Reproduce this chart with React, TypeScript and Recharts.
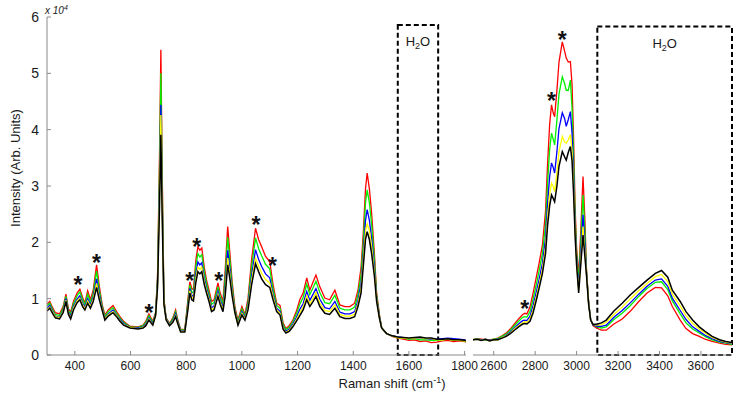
import React from "react";
import { Line, LineChart, ReferenceArea, ReferenceDot, XAxis, YAxis } from "recharts";

const FONT = "'Liberation Sans', Arial, sans-serif";
const AXIS_GREY = "#8a8a8a";

// fingerprint region (cm-1), intensities in units of 1e4
const shiftLow = [
  300, 310, 320, 330, 345, 358, 368, 377, 385, 395, 408, 418, 428, 436, 446, 456, 466, 478, 488, 498,
  508, 520, 537, 550, 562, 575, 598, 627, 645, 655, 666, 680, 690, 697, 704, 709, 714, 720, 728, 740,
  752, 762, 770, 780, 795, 806, 813, 820, 826, 835, 842, 849, 856, 865, 873, 882, 891, 900, 914, 922,
  932, 940, 949, 957, 965, 975, 986, 1000, 1011, 1022, 1035, 1049, 1060, 1071, 1085, 1100, 1112, 1125, 1137, 1148,
  1158, 1170, 1183, 1196, 1208, 1220, 1233, 1244, 1256, 1266, 1280, 1298, 1315, 1334, 1352, 1370, 1388, 1405, 1417, 1428,
  1436, 1444, 1450, 1458, 1466, 1476, 1484, 1494, 1502, 1520, 1540, 1560, 1580, 1600, 1620, 1640, 1660, 1680, 1700, 1720,
  1740, 1760, 1780, 1800, 1805,
];
const redLow = [
  0.9, 0.95, 0.84, 0.75, 0.73, 0.86, 1.08, 0.82, 0.76, 0.95, 1.1, 1.17, 1.02, 0.92, 1.14, 0.98, 1.15, 1.6, 1.22, 0.9,
  0.71, 0.8, 0.88, 0.77, 0.68, 0.6, 0.51, 0.5, 0.53, 0.6, 0.73, 0.6, 0.75, 1.4, 3.5, 5.42, 3.2, 1.0, 0.66, 0.56,
  0.66, 0.8, 0.62, 0.46, 0.45, 0.98, 1.3, 1.18, 1.16, 1.7, 1.92, 1.86, 1.9, 1.55, 1.33, 1.15, 0.95, 0.98, 1.28, 1.1,
  0.95, 1.5, 2.28, 1.8, 1.3, 0.85, 0.62, 0.86, 0.72, 1.0, 1.7, 2.25, 2.05, 1.92, 1.75, 1.66, 1.25, 0.92, 0.88, 0.57,
  0.47, 0.52, 0.62, 0.78, 0.98, 1.1, 1.37, 1.15, 1.3, 1.42, 1.21, 1.01, 0.98, 1.15, 0.89, 0.86, 0.86, 0.92, 1.15, 1.55,
  2.16, 2.95, 3.23, 2.95, 2.52, 1.8, 1.1, 0.72, 0.48, 0.38, 0.33, 0.3, 0.28, 0.26, 0.27, 0.24, 0.25, 0.22, 0.23, 0.25,
  0.26, 0.24, 0.25, 0.24, 0.23,
];
const greenLow = [
  0.87, 0.92, 0.81, 0.72, 0.7, 0.83, 1.04, 0.79, 0.73, 0.91, 1.05, 1.12, 0.98, 0.89, 1.08, 0.94, 1.09, 1.49, 1.15, 0.87,
  0.68, 0.77, 0.84, 0.74, 0.66, 0.58, 0.5, 0.49, 0.52, 0.58, 0.7, 0.58, 0.74, 1.34, 3.25, 5.0, 2.98, 0.97, 0.65, 0.55,
  0.64, 0.77, 0.6, 0.45, 0.44, 0.93, 1.24, 1.12, 1.1, 1.59, 1.8, 1.74, 1.78, 1.47, 1.27, 1.09, 0.9, 0.93, 1.21, 1.04,
  0.9, 1.37, 2.09, 1.67, 1.23, 0.82, 0.59, 0.82, 0.69, 0.94, 1.57, 2.08, 1.89, 1.76, 1.61, 1.53, 1.17, 0.88, 0.83, 0.54,
  0.45, 0.49, 0.59, 0.73, 0.9, 1.02, 1.26, 1.07, 1.2, 1.31, 1.11, 0.93, 0.91, 1.06, 0.83, 0.8, 0.8, 0.85, 1.07, 1.42,
  1.99, 2.7, 2.93, 2.7, 2.32, 1.69, 1.06, 0.7, 0.48, 0.38, 0.34, 0.31, 0.3, 0.28, 0.29, 0.27, 0.27, 0.26, 0.26, 0.27,
  0.28, 0.26, 0.26, 0.25, 0.24,
];
const blueLow = [
  0.83, 0.88, 0.78, 0.69, 0.67, 0.79, 1.0, 0.76, 0.69, 0.86, 0.99, 1.05, 0.92, 0.85, 1.0, 0.89, 1.03, 1.35, 1.07, 0.84,
  0.65, 0.73, 0.8, 0.71, 0.63, 0.56, 0.49, 0.48, 0.5, 0.55, 0.66, 0.56, 0.72, 1.28, 2.94, 4.44, 2.7, 0.94, 0.64, 0.54,
  0.61, 0.73, 0.58, 0.43, 0.43, 0.87, 1.18, 1.06, 1.04, 1.45, 1.65, 1.6, 1.64, 1.36, 1.19, 1.03, 0.84, 0.87, 1.13, 0.98,
  0.84, 1.22, 1.86, 1.52, 1.15, 0.79, 0.56, 0.77, 0.66, 0.88, 1.42, 1.87, 1.7, 1.57, 1.44, 1.37, 1.08, 0.83, 0.77, 0.5,
  0.42, 0.46, 0.55, 0.67, 0.81, 0.91, 1.13, 0.97, 1.08, 1.18, 0.99, 0.84, 0.82, 0.95, 0.76, 0.73, 0.73, 0.77, 0.97, 1.27,
  1.79, 2.39, 2.58, 2.39, 2.07, 1.55, 1.01, 0.68, 0.48, 0.38, 0.34, 0.32, 0.31, 0.29, 0.3, 0.3, 0.29, 0.28, 0.28, 0.29,
  0.3, 0.29, 0.28, 0.27, 0.26,
];
const yellowLow = [
  0.8, 0.85, 0.76, 0.68, 0.66, 0.77, 0.97, 0.74, 0.66, 0.83, 0.96, 1.01, 0.89, 0.82, 0.96, 0.86, 0.99, 1.27, 1.02, 0.82,
  0.64, 0.71, 0.77, 0.7, 0.61, 0.54, 0.49, 0.47, 0.49, 0.53, 0.64, 0.54, 0.71, 1.24, 2.76, 4.26, 2.54, 0.92, 0.63, 0.53,
  0.59, 0.7, 0.56, 0.42, 0.42, 0.83, 1.14, 1.02, 1.0, 1.37, 1.56, 1.52, 1.56, 1.3, 1.14, 0.99, 0.8, 0.83, 1.08, 0.94,
  0.8, 1.13, 1.72, 1.43, 1.1, 0.77, 0.55, 0.74, 0.64, 0.84, 1.33, 1.72, 1.58, 1.45, 1.34, 1.28, 1.03, 0.8, 0.74, 0.48,
  0.4, 0.44, 0.52, 0.63, 0.75, 0.85, 1.05, 0.91, 1.01, 1.11, 0.92, 0.79, 0.77, 0.89, 0.72, 0.69, 0.69, 0.72, 0.91, 1.18,
  1.68, 2.21, 2.33, 2.21, 1.93, 1.47, 0.98, 0.66, 0.48, 0.38, 0.34, 0.31, 0.3, 0.29, 0.3, 0.31, 0.29, 0.29, 0.27, 0.27,
  0.28, 0.26, 0.26, 0.25, 0.24,
];
const blackLow = [
  0.78, 0.83, 0.74, 0.66, 0.64, 0.75, 0.95, 0.72, 0.64, 0.8, 0.93, 0.98, 0.86, 0.8, 0.92, 0.83, 0.95, 1.2, 0.98, 0.8,
  0.62, 0.69, 0.75, 0.68, 0.6, 0.53, 0.48, 0.46, 0.48, 0.52, 0.62, 0.53, 0.7, 1.2, 2.6, 3.91, 2.4, 0.9, 0.62, 0.52,
  0.58, 0.68, 0.55, 0.41, 0.41, 0.8, 1.1, 0.98, 0.96, 1.3, 1.48, 1.44, 1.48, 1.25, 1.1, 0.95, 0.77, 0.8, 1.04, 0.9,
  0.77, 1.05, 1.6, 1.35, 1.05, 0.75, 0.53, 0.71, 0.62, 0.8, 1.25, 1.62, 1.48, 1.35, 1.25, 1.2, 0.98, 0.77, 0.71, 0.46,
  0.39, 0.42, 0.5, 0.6, 0.7, 0.8, 0.98, 0.86, 0.95, 1.04, 0.86, 0.74, 0.72, 0.83, 0.68, 0.65, 0.65, 0.68, 0.86, 1.1,
  1.57, 2.05, 2.19, 2.05, 1.8, 1.4, 0.95, 0.65, 0.48, 0.38, 0.34, 0.32, 0.31, 0.3, 0.31, 0.32, 0.3, 0.3, 0.28, 0.28,
  0.29, 0.27, 0.27, 0.26, 0.25,
];

// CH stretch / water region (cm-1)
const shiftHigh = [
  2500, 2520, 2540, 2560, 2580, 2600, 2620, 2640, 2660, 2680, 2700, 2720, 2740, 2750, 2760, 2775, 2790, 2806, 2820, 2835,
  2850, 2860, 2870, 2879, 2887, 2894, 2905, 2915, 2931, 2942, 2950, 2960, 2970, 2978, 2985, 2993, 3000, 3010, 3020, 3031,
  3040, 3047, 3058, 3068, 3080, 3100, 3120, 3143, 3180, 3220, 3260, 3300, 3340, 3380, 3410, 3440, 3462, 3500, 3528, 3560,
  3592, 3620, 3654, 3690, 3720, 3750,
];
const redHigh = [
  0.27, 0.29, 0.28, 0.27, 0.27, 0.28, 0.3, 0.34, 0.39, 0.46, 0.55, 0.64, 0.72, 0.74, 0.73, 0.85, 1.1, 1.39, 1.65, 1.95,
  2.55, 3.4, 4.1, 4.44, 4.3, 4.23, 4.7, 5.2, 5.56, 5.4, 5.27, 5.2, 5.21, 4.8, 3.9, 2.6, 1.9, 1.39, 2.2, 3.17,
  2.4, 1.57, 0.95, 0.62, 0.52, 0.47, 0.44, 0.44, 0.55, 0.64, 0.78, 0.95, 1.1, 1.2, 1.19, 1.05, 0.86, 0.62, 0.47, 0.38,
  0.33, 0.28, 0.24, 0.21, 0.19, 0.18,
];
const greenHigh = [
  0.27, 0.29, 0.27, 0.27, 0.26, 0.28, 0.29, 0.33, 0.37, 0.44, 0.52, 0.6, 0.67, 0.68, 0.67, 0.77, 0.99, 1.26, 1.51, 1.8,
  2.32, 3.06, 3.65, 3.94, 3.83, 3.73, 4.17, 4.63, 4.94, 4.82, 4.7, 4.7, 4.88, 4.38, 3.59, 2.45, 1.81, 1.3, 2.01, 2.84,
  2.2, 1.53, 0.93, 0.62, 0.53, 0.5, 0.48, 0.5, 0.63, 0.74, 0.88, 1.04, 1.18, 1.29, 1.3, 1.16, 0.96, 0.73, 0.57, 0.46,
  0.39, 0.33, 0.27, 0.23, 0.21, 0.19,
];
const blueHigh = [
  0.27, 0.28, 0.27, 0.28, 0.26, 0.27, 0.28, 0.31, 0.35, 0.41, 0.48, 0.55, 0.61, 0.62, 0.61, 0.69, 0.88, 1.13, 1.36, 1.63,
  2.07, 2.7, 3.17, 3.41, 3.33, 3.23, 3.61, 4.02, 4.3, 4.2, 4.06, 4.18, 4.32, 3.94, 3.26, 2.28, 1.71, 1.2, 1.82, 2.49,
  1.98, 1.49, 0.92, 0.62, 0.53, 0.51, 0.51, 0.53, 0.67, 0.79, 0.93, 1.08, 1.22, 1.33, 1.35, 1.22, 1.01, 0.79, 0.63, 0.5,
  0.42, 0.35, 0.29, 0.24, 0.22, 0.2,
];
const yellowHigh = [
  0.27, 0.28, 0.26, 0.28, 0.25, 0.27, 0.27, 0.31, 0.34, 0.39, 0.46, 0.52, 0.57, 0.59, 0.58, 0.64, 0.8, 1.04, 1.26, 1.52,
  1.91, 2.45, 2.85, 3.05, 2.99, 2.9, 3.24, 3.61, 3.88, 3.78, 3.76, 3.82, 3.91, 3.64, 3.04, 2.17, 1.64, 1.14, 1.68, 2.28,
  1.84, 1.47, 0.91, 0.62, 0.54, 0.53, 0.54, 0.58, 0.72, 0.85, 1.0, 1.14, 1.27, 1.39, 1.43, 1.3, 1.08, 0.87, 0.7, 0.56,
  0.46, 0.39, 0.31, 0.26, 0.23, 0.21,
];
const blackHigh = [
  0.27, 0.28, 0.26, 0.28, 0.25, 0.27, 0.27, 0.3, 0.33, 0.38, 0.44, 0.5, 0.55, 0.56, 0.55, 0.6, 0.75, 0.98, 1.2, 1.45,
  1.8, 2.3, 2.65, 2.84, 2.78, 2.72, 3.0, 3.35, 3.61, 3.52, 3.46, 3.6, 3.7, 3.45, 2.9, 2.1, 1.6, 1.1, 1.6, 2.13,
  1.75, 1.45, 0.9, 0.62, 0.54, 0.55, 0.57, 0.62, 0.78, 0.92, 1.07, 1.2, 1.33, 1.45, 1.5, 1.38, 1.15, 0.95, 0.77, 0.62,
  0.5, 0.42, 0.33, 0.27, 0.24, 0.22,
];

const ticksY = [0, 1, 2, 3, 4, 5, 6];
const ticksLow = [400, 600, 800, 1000, 1200, 1400, 1600, 1800];
const ticksHigh = [2600, 2800, 3000, 3200, 3400, 3600];

// asterisks marking assigned bands
const starsLowX = [411, 478, 666, 813, 838, 917, 1051, 1110];
const starsLowY = [1.33, 1.72, 0.83, 1.4, 2.01, 1.4, 2.39, 1.66];
const starsHighX = [2750, 2879, 2931];
const starsHighY = [0.91, 4.59, 5.68];

const series = [
  { key: "red", color: "#ff0000", width: 1.3 },
  { key: "green", color: "#00f000", width: 1.3 },
  { key: "blue", color: "#0000ff", width: 1.3 },
  { key: "yellow", color: "#ffff00", width: 1.3 },
  { key: "black", color: "#000000", width: 1.5 },
];

const rowsLow = shiftLow.map((x, i) => ({
  x,
  red: redLow[i],
  green: greenLow[i],
  blue: blueLow[i],
  yellow: yellowLow[i],
  black: blackLow[i],
}));
const rowsHigh = shiftHigh.map((x, i) => ({
  x,
  red: redHigh[i],
  green: greenHigh[i],
  blue: blueHigh[i],
  yellow: yellowHigh[i],
  black: blackHigh[i],
}));

function BottomTick({ x, y, payload }: any) {
  return (
    <g>
      <line x1={x} x2={x} y1={y} y2={y - 4} stroke={AXIS_GREY} />
      <text x={x} y={y + 15} textAnchor="middle" fontSize={12} fontFamily={FONT} fill="#1a1a1a">
        {payload.value}
      </text>
    </g>
  );
}

function LeftTick({ x, y, payload }: any) {
  return (
    <g>
      <line x1={x} x2={x + 4} y1={y} y2={y} stroke={AXIS_GREY} />
      <text x={x - 8} y={y + 5} textAnchor="end" fontSize={14} fontFamily={FONT} fill="#1a1a1a">
        {payload.value}
      </text>
    </g>
  );
}

function waterLabel({ viewBox }: any) {
  const cx = viewBox.x + viewBox.width / 2;
  return (
    <text x={cx} y={viewBox.y + 21} textAnchor="middle" fontSize={13} fontFamily={FONT} fill="#1a1a1a">
      H<tspan fontSize={9} dy={3}>2</tspan>
      <tspan dy={-3}>O</tspan>
    </text>
  );
}

function starLabel({ viewBox }: any) {
  return (
    <text
      x={viewBox.x}
      y={viewBox.y + 13}
      textAnchor="middle"
      fontSize={23}
      fontWeight="bold"
      fontFamily={FONT}
      fill="#111"
    >
      *
    </text>
  );
}

function renderLines() {
  return series.map((s) => (
    <Line
      key={s.key}
      type="linear"
      dataKey={s.key}
      stroke={s.color}
      strokeWidth={s.width}
      dot={false}
      isAnimationActive={false}
    />
  ));
}

export default function App() {
  return (
    <div style={{ position: "absolute", left: 0, top: 0, width: 743, height: 402, background: "#fff" }}>
      <div style={{ position: "absolute", left: 0, top: 0 }}>
        <LineChart width={482} height={402} data={rowsLow} margin={{ top: 17, right: 16, bottom: 0, left: 0 }}>
          <XAxis
            type="number"
            dataKey="x"
            domain={[300, 1805]}
            ticks={ticksLow}
            interval={0}
            allowDataOverflow
            height={47}
            tickSize={0}
            tickMargin={0}
            tickLine={false}
            tick={BottomTick}
            stroke={AXIS_GREY}
          />
          <YAxis
            type="number"
            domain={[0, 6]}
            ticks={ticksY}
            interval={0}
            width={47}
            tickSize={0}
            tickMargin={0}
            tickLine={false}
            tick={LeftTick}
            stroke={AXIS_GREY}
          />
          {renderLines()}
          <ReferenceArea
            x1={1560}
            x2={1705}
            y1={0}
            y2={5.86}
            fill="none"
            stroke="#000"
            strokeWidth={2}
            strokeDasharray="5 3"
            label={waterLabel}
          />
          {starsLowX.map((x, i) => (
            <ReferenceDot key={x} x={x} y={starsLowY[i]} r={0} fill="none" stroke="none" label={starLabel} />
          ))}
        </LineChart>
      </div>
      <div style={{ position: "absolute", left: 469, top: 0 }}>
        <LineChart width={274} height={402} data={rowsHigh} margin={{ top: 17, right: 11, bottom: 0, left: 4 }}>
          <XAxis
            type="number"
            dataKey="x"
            domain={[2500, 3750]}
            ticks={ticksHigh}
            interval={0}
            allowDataOverflow
            height={47}
            tickSize={0}
            tickMargin={0}
            tickLine={false}
            tick={BottomTick}
            stroke={AXIS_GREY}
          />
          <YAxis type="number" domain={[0, 6]} hide />
          {renderLines()}
          <ReferenceArea
            x1={3100}
            x2={3750}
            y1={0}
            y2={5.83}
            fill="none"
            stroke="#000"
            strokeWidth={2}
            strokeDasharray="5 3"
            label={waterLabel}
          />
          {starsHighX.map((x, i) => (
            <ReferenceDot key={x} x={x} y={starsHighY[i]} r={0} fill="none" stroke="none" label={starLabel} />
          ))}
        </LineChart>
      </div>
      <svg
        width={743}
        height={402}
        style={{ position: "absolute", left: 0, top: 0, pointerEvents: "none" }}
        fontFamily={FONT}
      >
        <text x={45} y={14} fontSize={10} fontStyle="italic" fill="#1a1a1a">
          x 10<tspan fontSize={7} dy={-4}>4</tspan>
        </text>
        <text
          x={0}
          y={0}
          transform="translate(20 168) rotate(-90)"
          textAnchor="middle"
          fontSize={13}
          fill="#1a1a1a"
        >
          Intensity (Arb. Units)
        </text>
        <text x={392} y={388} textAnchor="middle" fontSize={13} fill="#1a1a1a">
          Raman shift (cm<tspan fontSize={9} dy={-5}>-1</tspan>
          <tspan dy={5}>)</tspan>
        </text>
      </svg>
    </div>
  );
}
